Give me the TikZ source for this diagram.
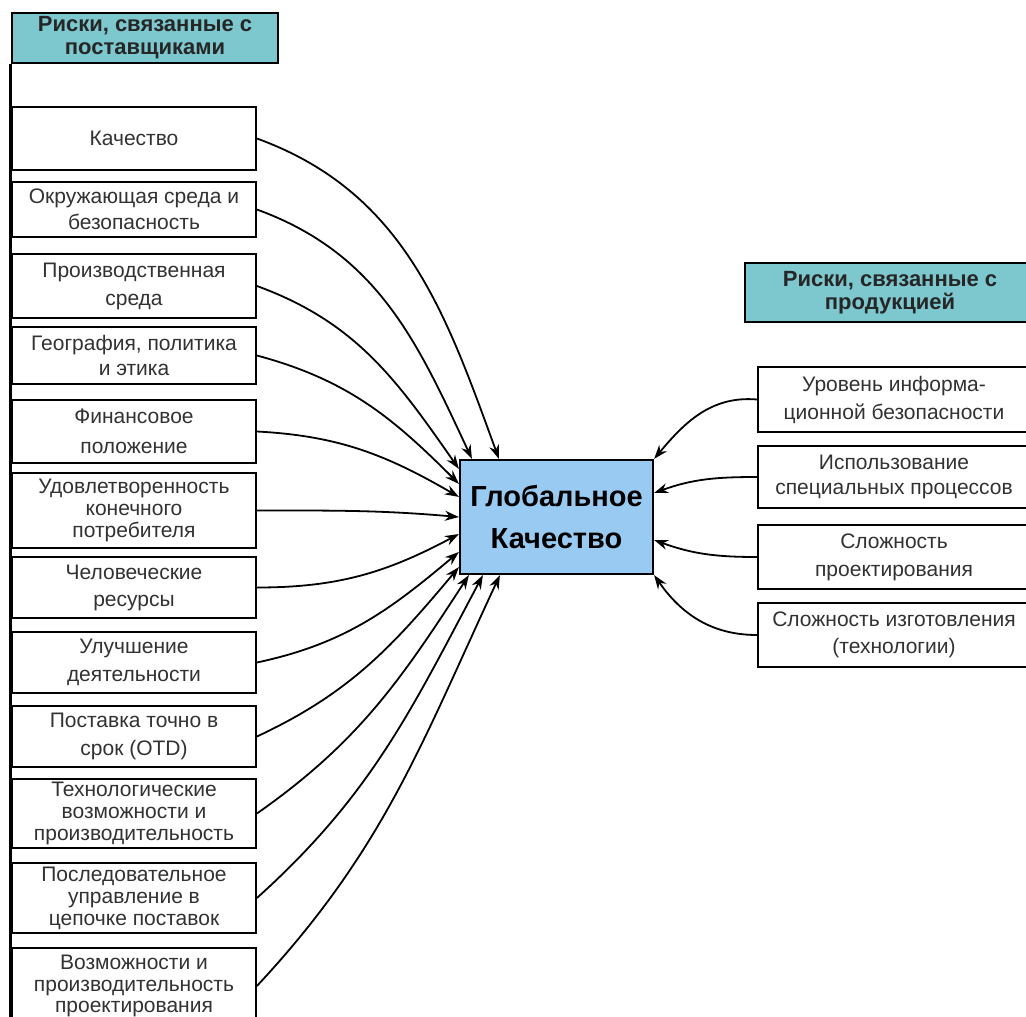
\documentclass[tikz,border=0pt]{standalone}
\usepackage{fontspec}
\setmainfont{Liberation Sans}
\usetikzlibrary{arrows.meta}
\definecolor{headfill}{RGB}{125,200,206}
\definecolor{coreblue}{RGB}{153,202,242}
\definecolor{txtgray}{RGB}{50,50,50}

\begin{document}
\begin{tikzpicture}[x=0.5pt,y=-0.5pt,
		riskbox/.style={draw,line width=0.9pt,fill=white,align=center,text=txtgray,inner sep=0pt},
		headbox/.style={draw,line width=1.4pt,fill=headfill,align=center,inner sep=0pt,text=black!85,font=\bfseries\fontsize{11}{11.5}\selectfont},
		arr/.style={-{Stealth[length=7pt,width=5pt]},line width=0.9pt}]
		\useasboundingbox (0,0) rectangle (1026,1016);
		\clip (0,0) rectangle (1026,1016);
		\fill[white] (0,0) rectangle (1026,1016);
		\node[headbox,minimum width=133pt,minimum height=25pt] (sup) at (145,38) {Риски, связанные с\\поставщиками};
		\draw[line width=1.4pt] (sup.south west) -- ++(0,980);
		\foreach \n/\y/\h/\ls/\txt in {1/138.5/31.5/12/{Качество}, 2/209.5/27.5/13/{Окружающая среда и\\безопасность}, 3/286/32/14/{Производственная\\среда}, 4/355.5/28.5/12.5/{География, политика\\и этика}, 5/431.5/31.5/15/{Финансовое\\положение}, 6/510.5/37.5/11/{Удовлетворенность\\конечного\\потребителя}, 7/587.5/30.5/13.5/{Человеческие\\ресурсы}, 8/662.5/30.5/14/{Улучшение\\деятельности}, 9/736.5/30.5/14/{Поставка точно в\\срок (OTD)}, 10/813.5/34.5/11/{Технологические\\возможности и\\производительность}, 11/898/35/11/{Последовательное\\управление в\\цепочке поставок}, 12/986/38/10.8/{Возможности и\\производительность\\проектирования}}
			\node[riskbox,minimum width=122pt,minimum height=\h pt,font=\fontsize{10.5}{\ls}\selectfont] (l\n) at (134,\y) {\txt};
		\node[draw,line width=1.1pt,fill=coreblue,align=center,inner sep=0pt,minimum width=96.5pt,minimum height=57pt,font=\bfseries\fontsize{14.5}{21}\selectfont] (g) at (556.5,517) {Глобальное\\Качество};
		\node[headbox,minimum width=145pt,minimum height=29.5pt] (prod) at (890,292.5) {Риски, связанные с\\продукцией};
		\foreach \n/\y/\h/\ls/\txt in {1/399.5/32.5/14/{Уровень информа-\\ционной безопасности}, 2/477/31/12.5/{Использование\\специальных процессов}, 3/557/32/14/{Сложность\\проектирования}, 4/635/32/13.5/{Сложность изготовления\\(технологии)}}
			\node[riskbox,minimum width=136pt,minimum height=\h pt,font=\fontsize{10.5}{\ls}\selectfont] (r\n) at (894,\y) {\txt};
		\foreach \n/\a/\dx/\dy/\o/\i in {1/north west/20/0/-20/110, 2/north west/6.5/0/-20/115, 3/north west/0/-5/-20/125, 4/north west/0/-12.5/-15/135, 5/north west/0/-19/-3/150, 6/west/0/0/0/175, 7/west/0/-8.5/0/208, 8/west/0/-17.5/12/220, 9/south west/0/4/25/230, 10/south west/5/0/35/237, 11/south west/12/0/42/242, 12/south west/20.5/0/47/245}
			\draw[arr] (l\n.east) to[out=\o,in=\i] ([xshift=\dx pt,yshift=\dy pt]g.\a);
		\foreach \n/\a/\dy/\o/\i in {1/north east/0/175/50, 2/east/12/180/20, 3/east/-11.5/180/-20, 4/south east/0/180/-55}
			\draw[arr] (r\n.west) to[out=\o,in=\i] ([yshift=\dy pt]g.\a);
	\end{tikzpicture}
\end{document}
